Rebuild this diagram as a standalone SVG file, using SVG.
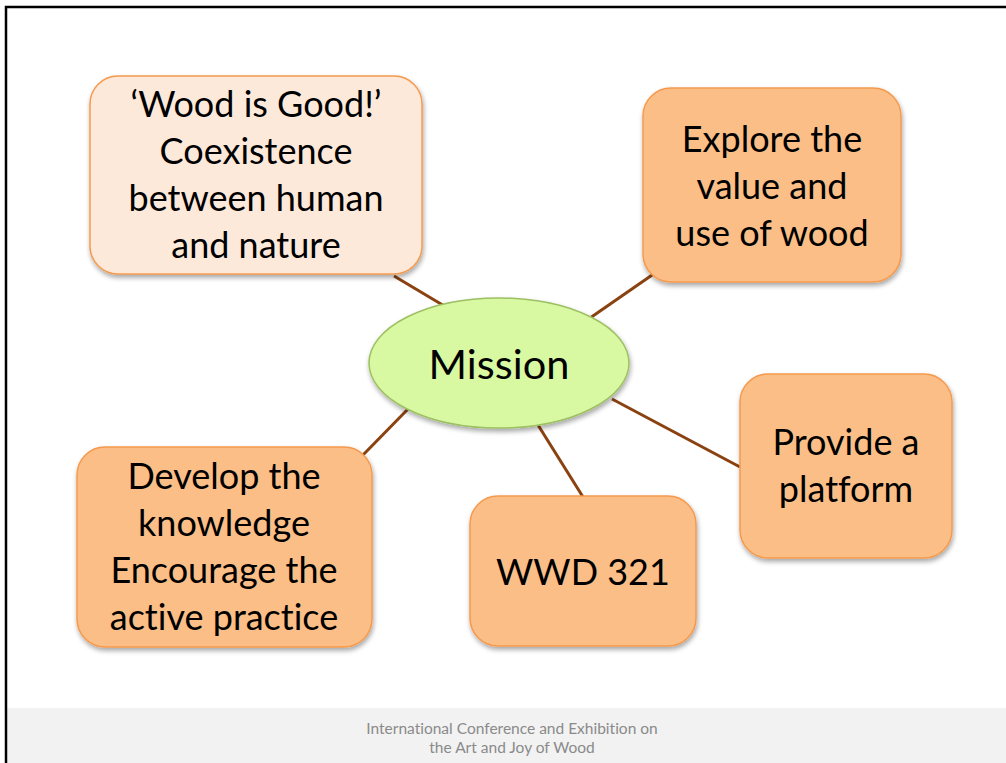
<svg xmlns="http://www.w3.org/2000/svg" width="1006" height="763" viewBox="0 0 1006 763">
  <defs>
    <filter id="shadow" x="-10%" y="-10%" width="125%" height="130%">
      <feGaussianBlur in="SourceAlpha" stdDeviation="2.5"/>
      <feOffset dx="1" dy="3" result="b"/>
      <feComponentTransfer><feFuncA type="linear" slope="0.35"/></feComponentTransfer>
      <feMerge><feMergeNode/><feMergeNode in="SourceGraphic"/></feMerge>
    </filter>
  </defs>
  <style>
    .box { fill: #FBBE87; stroke: #F59A4E; stroke-width: 1.5; filter: url(#shadow); }
    .box.light { fill: #FDE9DA; }
    .hub { fill: #D8F8A2; stroke: #9DC062; stroke-width: 1.5; filter: url(#shadow); }
    text { font-variant-ligatures: none; }
    .label { font-family: "Lato", "Liberation Sans", sans-serif; font-size: 36px; fill: #000; text-anchor: middle; }
    .hub-label { font-size: 41.5px; }
    .link { stroke: #8A4210; stroke-width: 3; fill: none; }
    .footer { font-family: "Lato", "Liberation Sans", sans-serif; font-size: 15.5px; fill: #8A8A8A; text-anchor: middle; }
  </style>

  <!-- slide background, frame and footer band -->
  <rect x="0" y="0" width="1006" height="763" fill="#FFFFFF"/>
  <rect x="7" y="708" width="999" height="55" fill="#F2F2F2"/>
  <path d="M6 763 V7 H1006" fill="none" stroke="#000" stroke-width="2.5"/>

  <!-- connectors -->
  <g id="connectors">
    <line class="link" x1="394" y1="276" x2="446" y2="307"/>
    <line class="link" x1="655" y1="273" x2="590" y2="318"/>
    <line class="link" x1="612" y1="399" x2="740" y2="467"/>
    <line class="link" x1="538" y1="425" x2="583" y2="497"/>
    <line class="link" x1="408" y1="409" x2="362" y2="456"/>
  </g>

  <g id="node-wood-is-good">
    <rect class="box light" x="90" y="76" width="332" height="198" rx="28"/>
    <text class="label" x="256" y="117">‘Wood is Good!’</text>
    <text class="label" x="256" y="164">Coexistence</text>
    <text class="label" x="256" y="211">between human</text>
    <text class="label" x="256" y="258">and nature</text>
  </g>

  <g id="node-explore">
    <rect class="box" x="643" y="88" width="258" height="194" rx="28"/>
    <text class="label" x="772" y="152">Explore the</text>
    <text class="label" x="772" y="199">value and</text>
    <text class="label" x="772" y="246">use of wood</text>
  </g>

  <g id="node-platform">
    <rect class="box" x="740" y="374" width="212" height="184" rx="28"/>
    <text class="label" x="846" y="455">Provide a</text>
    <text class="label" x="846" y="502">platform</text>
  </g>

  <g id="node-wwd">
    <rect class="box" x="470" y="496" width="226" height="150" rx="28"/>
    <text class="label" x="583" y="585" font-size="34">WWD 321</text>
  </g>

  <g id="node-develop">
    <rect class="box" x="77" y="447" width="295" height="200" rx="28"/>
    <text class="label" x="224" y="489">Develop the</text>
    <text class="label" x="224" y="536">knowledge</text>
    <text class="label" x="224" y="583">Encourage the</text>
    <text class="label" x="224" y="630">active practice</text>
  </g>

  <g id="node-mission">
    <ellipse class="hub" cx="499" cy="363" rx="130" ry="65"/>
    <text class="label hub-label" x="499" y="379">Mission</text>
  </g>

  <g id="footer">
    <text class="footer" x="512" y="734">International Conference and Exhibition on</text>
    <text class="footer" x="512" y="753">the Art and Joy of Wood</text>
  </g>
</svg>
